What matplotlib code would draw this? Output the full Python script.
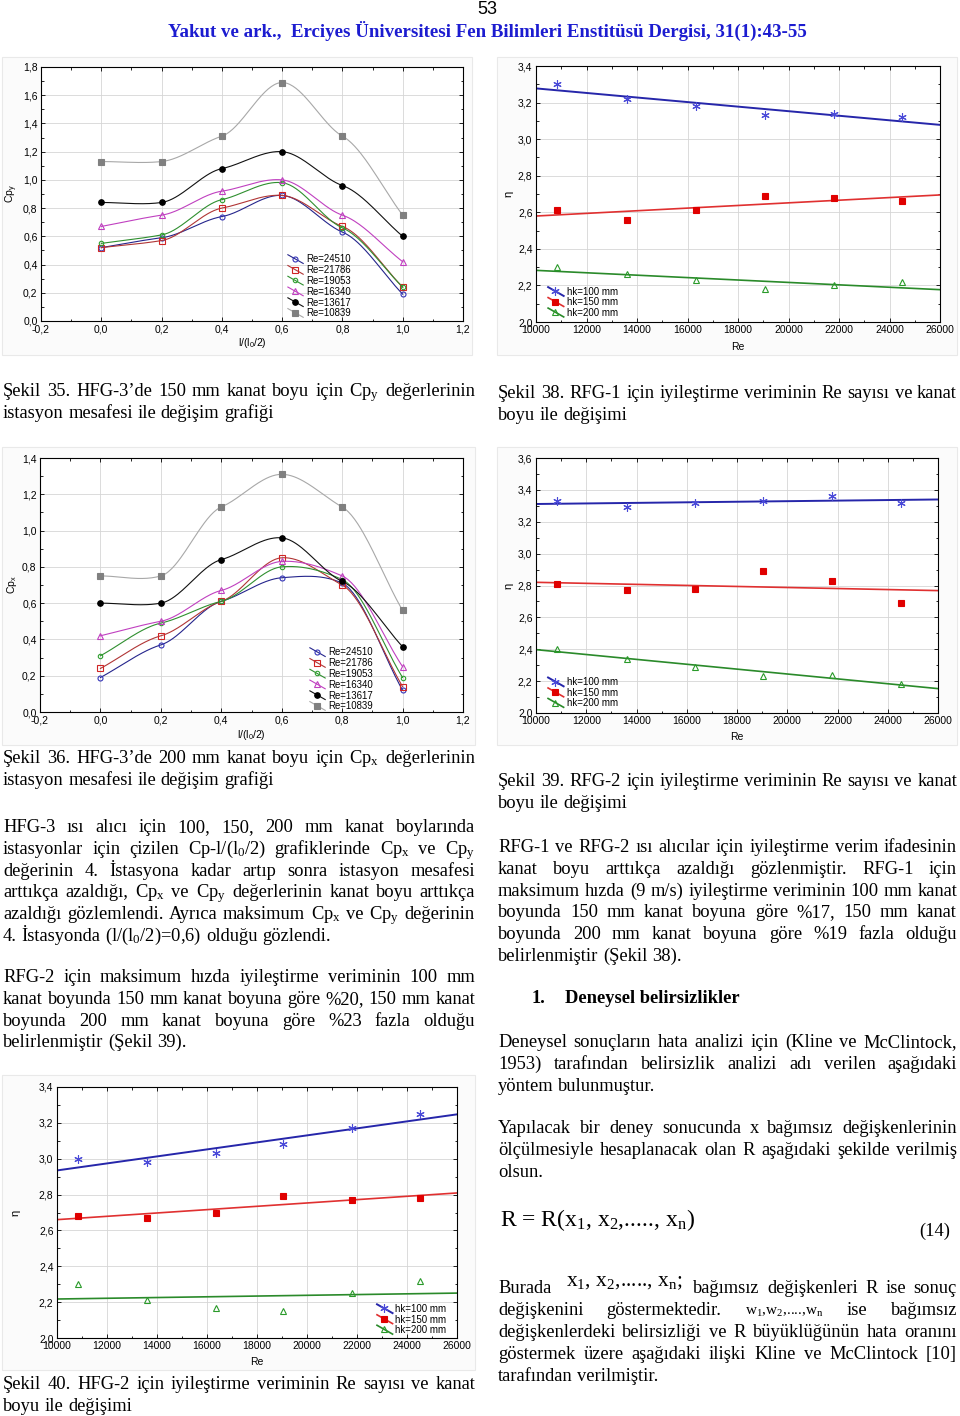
import numpy as np
import matplotlib
matplotlib.use("Agg")
import matplotlib.pyplot as plt
from matplotlib.lines import Line2D
from matplotlib.patches import Rectangle
from matplotlib.legend_handler import HandlerBase
from matplotlib.ticker import MultipleLocator, FuncFormatter

plt.rcParams["font.family"] = ["Liberation Sans", "DejaVu Sans"]
plt.rcParams["mathtext.fontset"] = "custom"
plt.rcParams["mathtext.rm"] = "Liberation Serif"
plt.rcParams["mathtext.it"] = "Liberation Serif:italic"
plt.rcParams["mathtext.sf"] = "Liberation Sans"

# ---- data ----
stations = [0.0, 0.2, 0.4, 0.6, 0.8, 1.0]
re_legend = ["Re=24510", "Re=21786", "Re=19053", "Re=16340", "Re=13617", "Re=10839"]

# Sekil 35: Cpy, HFG-3, 150 mm (one row per Re, same order as re_legend)
cpy_hfg3_150 = [
    [0.52, 0.59, 0.74, 0.89, 0.63, 0.19],
    [0.52, 0.57, 0.80, 0.89, 0.67, 0.24],
    [0.55, 0.61, 0.86, 0.98, 0.66, 0.24],
    [0.67, 0.75, 0.92, 1.00, 0.75, 0.42],
    [0.84, 0.84, 1.08, 1.20, 0.96, 0.60],
    [1.13, 1.13, 1.31, 1.69, 1.31, 0.75],
]
# Sekil 36: Cpx, HFG-3, 200 mm
cpx_hfg3_200 = [
    [0.19, 0.37, 0.61, 0.74, 0.71, 0.12],
    [0.24, 0.42, 0.61, 0.85, 0.70, 0.14],
    [0.31, 0.49, 0.61, 0.80, 0.73, 0.19],
    [0.42, 0.50, 0.67, 0.83, 0.75, 0.25],
    [0.60, 0.60, 0.84, 0.96, 0.72, 0.36],
    [0.75, 0.75, 1.13, 1.31, 1.13, 0.56],
]

re_numbers = [10839, 13617, 16340, 19053, 21786, 24510]
hk_legend = ["hk=100 mm", "hk=150 mm", "hk=200 mm"]
# Sekil 38 (RFG-1), 39 (RFG-2), 40 (HFG-2): rows hk=100, 150, 200
eta_rfg1 = [
    [3.30, 3.22, 3.18, 3.13, 3.14, 3.12],
    [2.61, 2.56, 2.61, 2.69, 2.68, 2.66],
    [2.30, 2.26, 2.23, 2.18, 2.20, 2.22],
]
eta_rfg2 = [
    [3.33, 3.29, 3.32, 3.33, 3.36, 3.32],
    [2.81, 2.77, 2.78, 2.89, 2.83, 2.69],
    [2.40, 2.34, 2.29, 2.23, 2.24, 2.18],
]
eta_hfg2 = [
    [3.00, 2.98, 3.03, 3.08, 3.17, 3.25],
    [2.68, 2.67, 2.70, 2.79, 2.77, 2.78],
    [2.30, 2.21, 2.17, 2.15, 2.25, 2.32],
]

# ---- page text ----
cap35 = ["Şekil 35. HFG-3’de 150 mm kanat boyu için Cp$_\\mathrm{y}$ değerlerinin",
         "istasyon mesafesi ile değişim grafiği"]
cap36 = ["Şekil 36. HFG-3’de 200 mm kanat boyu için Cp$_\\mathrm{x}$ değerlerinin",
         "istasyon mesafesi ile değişim grafiği"]
cap38 = ["Şekil 38. RFG-1 için iyileştirme veriminin Re sayısı ve kanat",
         "boyu ile değişimi"]
cap39 = ["Şekil 39. RFG-2 için iyileştirme veriminin Re sayısı ve kanat",
         "boyu ile değişimi"]
cap40 = ["Şekil 40. HFG-2 için iyileştirme veriminin Re sayısı ve kanat",
         "boyu ile değişimi"]

left_p1 = [
    "HFG-3 ısı alıcı için 100, 150, 200 mm kanat boylarında",
    "istasyonlar için çizilen Cp-l/(l$_0$/2) grafiklerinde Cp$_\\mathrm{x}$ ve Cp$_\\mathrm{y}$",
    "değerinin 4. İstasyona kadar artıp sonra istasyon mesafesi",
    "arttıkça azaldığı, Cp$_\\mathrm{x}$ ve Cp$_\\mathrm{y}$ değerlerinin kanat boyu arttıkça",
    "azaldığı gözlemlendi. Ayrıca maksimum Cp$_\\mathrm{x}$ ve Cp$_\\mathrm{y}$ değerinin",
    "4. İstasyonda (l/(l$_0$/2)=0,6) olduğu gözlendi.",
]
left_p2 = [
    "RFG-2 için maksimum hızda iyileştirme veriminin 100 mm",
    "kanat boyunda 150 mm kanat boyuna göre %20, 150 mm kanat",
    "boyunda 200 mm kanat boyuna göre %23 fazla olduğu",
    "belirlenmiştir (Şekil 39).",
]
right_p1 = [
    "RFG-1 ve RFG-2 ısı alıcılar için iyileştirme verim ifadesinin",
    "kanat boyu arttıkça azaldığı gözlenmiştir. RFG-1 için",
    "maksimum hızda (9 m/s) iyileştirme veriminin 100 mm kanat",
    "boyunda 150 mm kanat boyuna göre %17, 150 mm kanat",
    "boyunda 200 mm kanat boyuna göre %19 fazla olduğu",
    "belirlenmiştir (Şekil 38).",
]
right_p2 = [
    "Deneysel sonuçların hata analizi için (Kline ve McClintock,",
    "1953) tarafından belirsizlik analizi adı verilen aşağıdaki",
    "yöntem bulunmuştur.",
]
right_p3 = [
    "Yapılacak bir deney sonucunda x bağımsız değişkenlerinin",
    "ölçülmesiyle hesaplanacak olan R aşağıdaki şekilde verilmiş",
    "olsun.",
]
right_p4 = [
    "değişkenlerdeki belirsizliği ve R büyüklüğünün hata oranını",
    "göstermek üzere aşağıdaki ilişki Kline ve McClintock [10]",
    "tarafından verilmiştir.",
]

SERIF = "Liberation Serif"
BODY = 13.3
LEAD = 21.8

fig = plt.figure(figsize=(9.6, 14.16), dpi=100)
page = fig.add_axes([0, 0, 1, 1])
page.set_xlim(0, 960)
page.set_ylim(1416, 0)
page.axis("off")
renderer = fig.canvas.get_renderer()


def text_line(words, x0, x1, base, justify, size=BODY, weight="normal", sizes=None):
    arts = []
    for i, w in enumerate(words):
        s = sizes[i] if sizes else size
        arts.append(page.text(0, base, w, fontsize=s, family=SERIF,
                              weight=weight, va="baseline", ha="left"))
    widths = [a.get_window_extent(renderer).width for a in arts]
    if justify and len(arts) > 1:
        gap = (x1 - x0 - sum(widths)) / (len(arts) - 1)
    else:
        gap = size * 1.389 * 0.25
    x = x0
    for a, w in zip(arts, widths):
        a.set_x(x)
        x += w + gap


def paragraph(lines, x0, x1, first, dy=LEAD, **kw):
    for i, ln in enumerate(lines):
        words = [w for w in ln.split(" ") if w]
        text_line(words, x0, x1, first + i * dy + 5, i < len(lines) - 1, **kw)


def smooth(x, y, tension=0.5, n=40):
    """cardinal (Hermite) spline through the points, only for drawing the curve"""
    x = np.asarray(x, float)
    y = np.asarray(y, float)
    m = np.empty_like(y)
    m[0] = (y[1] - y[0]) / (x[1] - x[0])
    m[-1] = (y[-1] - y[-2]) / (x[-1] - x[-2])
    m[1:-1] = (1 - tension) * (y[2:] - y[:-2]) / (x[2:] - x[:-2])
    xs, ys = [], []
    t = np.linspace(0, 1, n)
    for i in range(len(x) - 1):
        h = x[i + 1] - x[i]
        h00 = 2 * t ** 3 - 3 * t ** 2 + 1
        h10 = t ** 3 - 2 * t ** 2 + t
        h01 = -2 * t ** 3 + 3 * t ** 2
        h11 = t ** 3 - t ** 2
        xs.append(x[i] + t * h)
        ys.append(h00 * y[i] + h10 * h * m[i] + h01 * y[i + 1] + h11 * h * m[i + 1])
    return np.concatenate(xs), np.concatenate(ys)


class Diag(HandlerBase):
    def create_artists(self, legend, orig, xd, yd, w, h, fs, trans):
        x0, y0 = -xd, -yd
        ln = Line2D([x0, x0 + w], [y0 + 1.15 * h, y0 - 0.15 * h],
                    color=orig.get_color(), lw=orig.get_linewidth(), transform=trans)
        mk = Line2D([x0 + 0.45 * w], [y0 + 0.55 * h], ls="none",
                    marker=orig.get_marker(), markersize=orig.get_markersize(),
                    markerfacecolor=orig.get_markerfacecolor(),
                    markeredgecolor=orig.get_markeredgecolor(),
                    markeredgewidth=orig.get_markeredgewidth(), transform=trans)
        return [ln, mk]


def comma(v, pos):
    v = round(v, 6) + 0.0
    return f"{v:.1f}".replace(".", ",")


def chart(l, t, r, b, box):
    bx, by, bw, bh = box
    page.add_patch(Rectangle((bx, by), bw, bh, fc="#fbfbfb", ec="#e9e9e9", lw=0.8))
    ax = fig.add_axes([l / 960, 1 - b / 1416, (r - l) / 960, (b - t) / 1416])
    ax.set_facecolor("white")
    for s in ax.spines.values():
        s.set_linewidth(0.8)
    ax.grid(True, which="major", color="#d6d6d6", lw=0.6)
    ax.set_axisbelow(True)
    ax.tick_params(which="both", direction="in", top=True, right=True,
                   labelsize=7.5, pad=2.5, width=0.6)
    ax.tick_params(which="major", length=3)
    ax.tick_params(which="minor", length=1.8)
    return ax


cp_styles = [
    dict(color="#25258c", marker="o", mfc="none", mec="#3535b8", ms=3.6),
    dict(color="#b03535", marker="s", mfc="none", mec="#d02525", ms=4.0),
    dict(color="#2f8f2f", marker="o", mfc="none", mec="#2f9f2f", ms=3.2),
    dict(color="#c040c0", marker="^", mfc="none", mec="#c040c0", ms=4.6),
    dict(color="#111111", marker="o", mfc="#000000", mec="#000000", ms=4.0),
    dict(color="#a8a8a8", marker="s", mfc="#808080", mec="#808080", ms=4.6),
]
hk_styles = [
    dict(lc="#2626aa", lw=1.4, marker=(6, 2, 0), mfc="#4a4ad8", mec="#4a4ad8", ms=6),
    dict(lc="#e03030", lw=1.2, marker="s", mfc="#e00000", mec="#e00000", ms=4.6),
    dict(lc="#2a8a2a", lw=1.2, marker="^", mfc="none", mec="#2a9a2a", ms=4.6),
]


def cp_chart(ax, rows, ymax, ylabel, leg_xy):
    handles = []
    for row, st in zip(rows, cp_styles):
        xs, ys = smooth(stations, row)
        ax.plot(xs, ys, color=st["color"], lw=0.8)
        ax.plot(stations, row, ls="none", marker=st["marker"], mfc=st["mfc"],
                mec=st["mec"], ms=st["ms"], mew=0.8)
        handles.append(Line2D([], [], color=st["color"], lw=0.8, marker=st["marker"],
                              mfc=st["mfc"], mec=st["mec"], ms=st["ms"], mew=0.8))
    ax.set_xlim(-0.2, 1.2)
    ax.set_ylim(0, ymax)
    ax.xaxis.set_major_locator(MultipleLocator(0.2))
    ax.xaxis.set_minor_locator(MultipleLocator(0.1))
    ax.yaxis.set_major_locator(MultipleLocator(0.2))
    ax.yaxis.set_minor_locator(MultipleLocator(0.1))
    ax.xaxis.set_major_formatter(FuncFormatter(comma))
    ax.yaxis.set_major_formatter(FuncFormatter(comma))
    ax.set_xlabel("l/(l$_\\mathsf{0}$/2)", fontsize=7.5, va="center")
    ax.set_ylabel(ylabel, fontsize=7.5, va="center", ha="center")
    ax.legend(handles, re_legend, handler_map={Line2D: Diag()}, loc="upper left",
              bbox_to_anchor=leg_xy, frameon=False, fontsize=6.9, handlelength=1.6,
              handleheight=0.7, labelspacing=0.08, handletextpad=0.3, borderpad=0.0,
              borderaxespad=0)


def eta_chart(ax, rows, ymax, leg_xy):
    handles = []
    lo, hi = 10000, 26000
    for row, st in zip(rows, hk_styles):
        k, c = np.polyfit(re_numbers, row, 1)
        ax.plot([lo, hi], [k * lo + c, k * hi + c], color=st["lc"], lw=st["lw"])
        ax.plot(re_numbers, row, ls="none", marker=st["marker"], mfc=st["mfc"],
                mec=st["mec"], ms=st["ms"], mew=0.8)
        handles.append(Line2D([], [], color=st["lc"], lw=st["lw"], marker=st["marker"],
                              mfc=st["mfc"], mec=st["mec"], ms=st["ms"], mew=0.8))
    ax.set_xlim(lo, hi)
    ax.set_ylim(2.0, ymax)
    ax.xaxis.set_major_locator(MultipleLocator(2000))
    ax.xaxis.set_minor_locator(MultipleLocator(1000))
    ax.yaxis.set_major_locator(MultipleLocator(0.2))
    ax.yaxis.set_minor_locator(MultipleLocator(0.1))
    ax.xaxis.set_major_formatter(FuncFormatter(lambda v, p: f"{v:.0f}"))
    ax.yaxis.set_major_formatter(FuncFormatter(comma))
    ax.set_xlabel("Re", fontsize=7.5, va="center")
    ax.set_ylabel("η", fontsize=8, va="center", ha="center")
    ax.legend(handles, hk_legend, handler_map={Line2D: Diag()}, loc="upper left",
              bbox_to_anchor=leg_xy, frameon=False, fontsize=7, handlelength=1.6,
              handleheight=0.7, labelspacing=0.05, handletextpad=0.3, borderpad=0.0,
              borderaxespad=0)


# ---- charts ----
ax1 = chart(41, 67, 463, 321, (2, 57, 470, 298))
cp_chart(ax1, cpy_hfg3_150, 1.8, "Cp$_\\mathsf{y}$", (0.585, 0.262))
ax1.xaxis.set_label_coords(0.5, -0.087)
ax1.yaxis.set_label_coords(-0.069, 0.5)

ax2 = chart(536, 66, 940, 322, (497, 57, 460, 298))
eta_chart(ax2, eta_rfg1, 3.4, (0.03, 0.137))
ax2.xaxis.set_label_coords(0.5, -0.098)
ax2.yaxis.set_label_coords(-0.069, 0.5)

ax3 = chart(40, 458, 463, 712, (2, 447, 473, 298))
cp_chart(ax3, cpx_hfg3_200, 1.4, "Cp$_\\mathsf{x}$", (0.638, 0.254))
ax3.xaxis.set_label_coords(0.5, -0.09)
ax3.yaxis.set_label_coords(-0.066, 0.5)

ax4 = chart(536, 458, 938, 713, (497, 447, 460, 298))
eta_chart(ax4, eta_rfg2, 3.6, (0.03, 0.14))
ax4.xaxis.set_label_coords(0.5, -0.094)
ax4.yaxis.set_label_coords(-0.069, 0.5)

ax5 = chart(57, 1087, 457, 1338, (2, 1075, 473, 295))
eta_chart(ax5, eta_hfg2, 3.4, (0.80, 0.135))
ax5.xaxis.set_label_coords(0.5, -0.096)
ax5.yaxis.set_label_coords(-0.105, 0.5)

# ---- header ----
page.text(487, 9, "53", ha="center", va="center", fontsize=13, family="Liberation Sans")
page.text(487, 31, "Yakut ve ark.,  Erciyes Üniversitesi Fen Bilimleri Enstitüsü Dergisi, 31(1):43-55",
          ha="center", va="center", fontsize=13.6, family=SERIF, weight="bold", color="#1c1cd0")

# ---- left column ----
L0, L1 = 3, 475
R0, R1 = 498, 957
paragraph(cap35, L0, L1, 391)
paragraph(cap36, L0, L1, 758)
paragraph(left_p1, L0, L1, 827)
paragraph(left_p2, L0, L1, 977)
paragraph(cap40, L0, L1, 1384)

# ---- right column ----
paragraph(cap38, R0, R1, 393)
paragraph(cap39, R0, R1, 781)
paragraph(right_p1, R0, R1, 847)
page.text(532, 1003, "1.", fontsize=BODY, family=SERIF, weight="bold", va="baseline")
page.text(565, 1003, "Deneysel belirsizlikler", fontsize=BODY, family=SERIF, weight="bold",
          va="baseline")
paragraph(right_p2, R0, R1, 1042)
paragraph(right_p3, R0, R1, 1128)

page.text(500, 1226, "R = R(x$_1$, x$_2$,....., x$_\\mathrm{n}$)", fontsize=17, family=SERIF,
          va="baseline")
page.text(950, 1236, "(14)", fontsize=BODY, family=SERIF, va="baseline", ha="right")

page.text(R0, 1293, "Burada", fontsize=BODY, family=SERIF, va="baseline")
page.text(566, 1286, "x$_1$, x$_2$,....., x$_\\mathrm{n}$;", fontsize=15.5, family=SERIF,
          va="baseline")
text_line("bağımsız değişkenleri R ise sonuç".split(), 693, R1, 1293, True)
text_line(["değişkenini", "göstermektedir.", "w$_1$,w$_2$,....,w$_\\mathrm{n}$", "ise", "bağımsız"],
          R0, R1, 1315, True, sizes=[BODY, BODY, 11, BODY, BODY])
paragraph(right_p4, R0, R1, 1332)

fig.savefig("out.png", dpi=100, facecolor="white")
